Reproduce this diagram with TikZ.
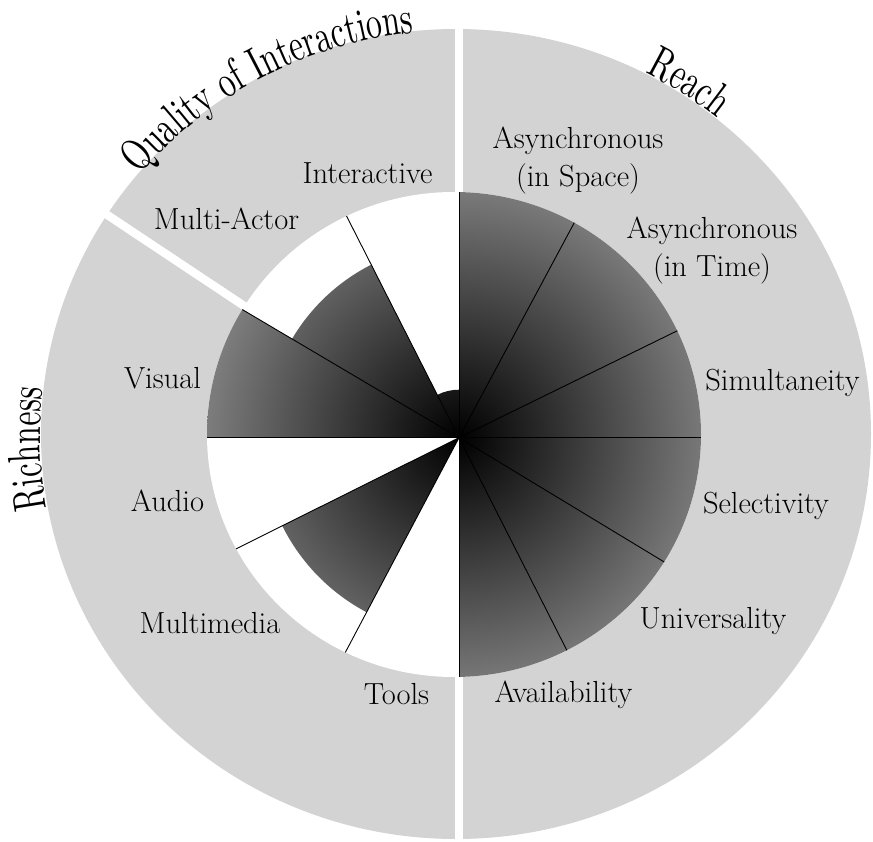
\documentclass[tikz,border=0pt]{standalone}
\usepackage{fontspec}
\newfontfamily\titlefont[FakeStretch=0.69]{lmroman10-regular.otf}
\usetikzlibrary{decorations.text,calc}
\definecolor{ringgrey}{RGB}{211,211,211}
\definecolor{wedgeout}{gray}{0.5}
\begin{document}
\begin{tikzpicture}[x=1pt,y=1pt,
  lbl/.style={inner sep=0pt, font=\fontsize{30.5}{37.5}\selectfont, anchor=base},
  lbltwo/.style={inner sep=0pt, font=\fontsize{30.5}{37.5}\selectfont, align=center},
  gapline/.style={white, line width=8.3pt},
  edgeline/.style={black, line width=0.9pt},
  wedgeshade/.style={inner color=black, outer color=wedgeout},
  titletext/.style={decorate, decoration={text along path, text align=center,
      text={|\titlefont\fontsize{46}{46}\selectfont|#1}}}
  ]
\useasboundingbox (0,0) rectangle (873,841);
\coordinate (A) at (459,403.3);
\coordinate (O) at (456,407);
\coordinate (D) at (454,406.5);

% grey ring
\fill[ringgrey] (O) ellipse [x radius=415, y radius=405];
% white gaps between the three groups
\draw[gapline] (458.7,0) -- (458.7,841);
\draw[gapline] (300,497.9) -- (0,697.4);
% inner white disk
\fill[white] (D) ellipse [x radius=247, y radius=242.5];

% wedges
\begin{scope}
  \clip (D) ellipse [x radius=247, y radius=242.5];
  % Reach (all full)
  \begin{scope}
    \clip (A) -- ++(-90:300) arc[start angle=-90, end angle=90, radius=300] -- cycle;
    \shade[wedgeshade] (A) circle (258);
  \end{scope}
  % Interactive
  \begin{scope}
    \clip (A) -- ++(90:48) arc[start angle=90, end angle=116.9, radius=48] -- cycle;
    \shade[wedgeshade] (A) circle (258);
  \end{scope}
  % Multi-Actor
  \begin{scope}
    \clip (A) -- ++(116.9:194) arc[start angle=116.9, end angle=149.4, radius=194] -- cycle;
    \shade[wedgeshade] (A) circle (258);
  \end{scope}
  % Visual
  \begin{scope}
    \clip (A) -- ++(149.4:300) arc[start angle=149.4, end angle=180, radius=300] -- cycle;
    \shade[wedgeshade] (A) circle (258);
  \end{scope}
  % Multimedia
  \begin{scope}
    \clip (A) -- ++(206.5:197.5) arc[start angle=206.5, end angle=242.1, radius=197.5] -- cycle;
    \shade[wedgeshade] (A) circle (258);
  \end{scope}
  % wedge boundaries
  \foreach \a in {90,61.8,26.1,0,-31.2,-63.1,-90,242.1,206.5,180,149.4,116.9}
    \draw[edgeline] (A) -- ++(\a:300);
\end{scope}

% labels
\node[lbl] (interactive) at (367.5,657) {Interactive};
\node[lbl] (multiactor) at (226.5,611) {Multi-Actor};
\node[lbltwo] (asyncspace) at (578,680.6) {Asynchronous\\(in Space)};
\node[lbltwo] (asynctime) at (712,590.6) {Asynchronous\\(in Time)};
\node[lbl] (simult) at (782.5,450) {Simultaneity};
\node[lbl] (select) at (766,327) {Selectivity};
\node[lbl] (univ) at (713,212.7) {Universality};
\node[lbl] (avail) at (563.5,138) {Availability};
\node[lbl] (tools) at (396.5,136) {Tools};
\node[lbl] (multimedia) at (210,207) {Multimedia};
\node[lbl] (audio) at (167.5,329.3) {Audio};
\node[lbl] (visual) at (162.5,452.7) {Visual};

% group titles along the ring
\path[titletext={Quality of Interactions}]
  ($(O)+(150:413 and 403)$) arc[start angle=150, end angle=86, x radius=413, y radius=403];
\path[titletext={Reach}]
  ($(O)+(68:416 and 406)$) arc[start angle=68, end angle=46, x radius=416, y radius=406];
\path[titletext={Richness}]
  ($(O)+(200:416 and 406)$) arc[start angle=200, end angle=164, x radius=416, y radius=406];
\end{tikzpicture}
\end{document}
